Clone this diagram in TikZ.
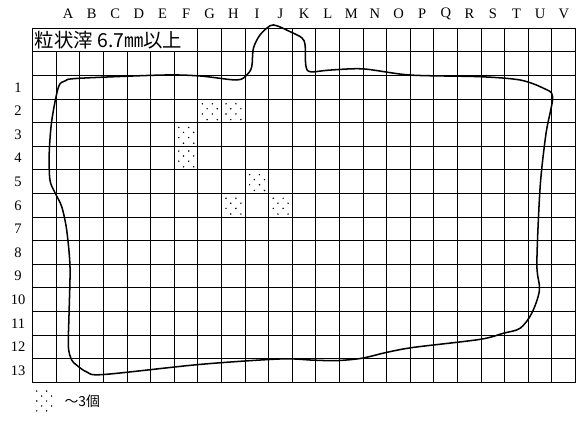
\documentclass[tikz,border=0pt]{standalone}
\usepackage{fontspec}
\setmainfont{Liberation Serif}
\newfontfamily\jpfont{Noto Sans CJK JP}
\usepackage{tikz}
\definecolor{gridblack}{HTML}{000000}

\begin{document}
\begin{tikzpicture}[x=0.6cm,y=0.6cm,
    gridline/.style={gridblack,line width=0.7pt},
    lbl/.style={font=\fontsize{10.5}{12}\selectfont,inner sep=0pt},
    jptext/.style={font=\jpfont\fontsize{#1}{#1}\selectfont,inner sep=0pt,anchor=west}]
  \useasboundingbox (-1.386,1.199) rectangle (23.40,-16.72);
  % dotted cells
  \foreach \c/\r in {7/2,8/2,6/3,6/4,9/5,8/6,10/6}{
    \foreach \dy/\dx in {0.2/0.19,0.2/0.61,0.41/0.39,0.41/0.82,0.63/0.19,0.63/0.61,0.87/0.39,0.87/0.82}
      \fill (\c+\dx,-\r-1-\dy) circle[radius=0.035];
  }
  % grid
  \draw[gridline] (0,0) rectangle (23,-15);
  \foreach \y in {1,...,14} \draw[gridline] (0,-\y) -- (23,-\y);
  \foreach \x in {1,...,22} \draw[gridline] (\x,-1) -- (\x,-15);
  \foreach \x in {7,...,22} \draw[gridline] (\x,0) -- (\x,-1);
  % labels
  \foreach \l [count=\i] in {A,...,V} \node[lbl] (col\l) at (\i+0.5,0.62) {\l};
  \foreach \r in {1,...,13} \node[lbl] (row\r) at (-0.62,-\r-1.5) {\r};
  \node[jptext=14] (title) at (0.08,-0.5) {粒状滓 6.7㎜以上};
  % outline
  \draw[line width=1.1pt] plot[smooth cycle,tension=0.5] coordinates {
    (1.54,-12.06) (1.58,-10.11) (1.44,-8.55) (1.23,-7.56) (0.95,-6.98)
    (0.73,-6.43) (0.70,-5.28) (0.81,-3.89) (1.09,-2.49) (1.37,-2.23)
    (1.93,-2.12) (5.52,-1.98) (7.09,-2.02) (8.64,-2.19) (9.07,-1.98)
    (9.28,-1.63) (9.35,-0.85) (9.63,-0.28) (10.06,0.11) (10.34,0.11)
    (10.90,-0.14) (11.40,-0.40) (11.54,-0.71) (11.57,-1.56) (11.75,-1.84)
    (12.60,-1.77) (14.01,-1.72) (15.99,-1.98) (18.95,-2.05) (20.65,-2.19)
    (21.64,-2.54) (22.03,-2.91) (21.75,-4.44) (21.50,-6.71) (21.36,-9.96)
    (21.47,-11.09) (21.14,-12.08) (20.65,-12.71) (19.94,-12.92) (18.95,-13.18)
    (16.13,-13.52) (15.00,-13.73) (13.94,-13.98) (12.88,-14.08) (11.89,-14.06)
    (10.48,-14.01) (7.09,-14.24) (2.99,-14.67) (2.29,-14.56) (1.86,-14.27)
    (1.65,-14.05) (1.51,-13.49)};
  % legend
  \foreach \dy/\dx in {0.2/0.17,0.2/0.59,0.41/0.38,0.41/0.80,0.62/0.17,0.62/0.59,0.83/0.38,0.83/0.80,1.04/0.17,1.04/0.59}
    \fill (\dx,-15.17-\dy) circle[radius=0.035];
  \node[jptext=10] (legend) at (1.34,-15.81) {～3個};
\end{tikzpicture}
\end{document}
